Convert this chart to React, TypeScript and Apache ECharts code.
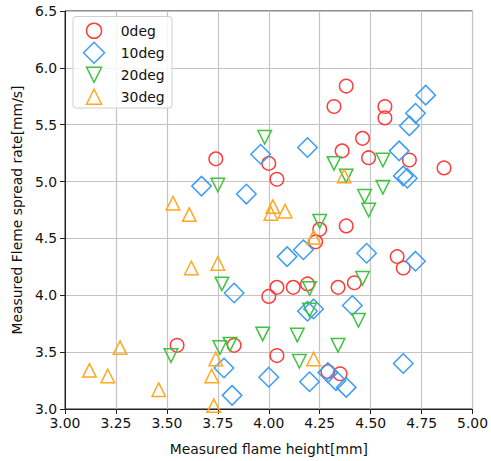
import React, { useEffect, useRef } from "react";
import * as echarts from "echarts";

// [flame height (mm), spread rate (mm/s)]
const deg0: number[][] = [
  [3.74, 5.2], [4.0, 5.16], [4.04, 5.02], [4.32, 5.66], [4.38, 5.84], [4.57, 5.66],
  [4.57, 5.56], [4.46, 5.38], [4.36, 5.27], [4.49, 5.21], [4.69, 5.19], [4.86, 5.12],
  [4.25, 4.58], [4.23, 4.47], [4.38, 4.61], [4.63, 4.34], [4.66, 4.24], [4.0, 3.99],
  [4.04, 4.07], [4.12, 4.07], [4.19, 4.1], [4.34, 4.07], [4.42, 4.11], [4.04, 3.47],
  [4.29, 3.33], [4.35, 3.31], [3.83, 3.56], [3.55, 3.56],
];
const deg10: number[][] = [
  [3.67, 4.96], [3.89, 4.89], [3.96, 5.24], [4.19, 5.3], [4.77, 5.76], [4.72, 5.6],
  [4.69, 5.49], [4.64, 5.27], [4.66, 5.05], [4.68, 5.03], [4.09, 4.34], [4.17, 4.4],
  [4.48, 4.37], [4.72, 4.3], [4.41, 3.91], [4.19, 3.86], [4.22, 3.88], [4.66, 3.4],
  [4.0, 3.28], [4.2, 3.24], [4.29, 3.32], [4.33, 3.25], [4.38, 3.19], [3.83, 4.02],
  [3.78, 3.36], [3.82, 3.12],
];
const deg20: number[][] = [
  [3.98, 5.39], [3.75, 4.97], [4.32, 5.16], [4.38, 5.05], [4.56, 5.19], [4.56, 4.95],
  [4.47, 4.87], [4.49, 4.75], [4.25, 4.65], [4.2, 4.06], [4.2, 3.87], [4.46, 4.15],
  [4.44, 3.78], [3.97, 3.66], [4.14, 3.65], [4.34, 3.56], [4.15, 3.42], [3.77, 4.1],
  [3.76, 3.54], [3.81, 3.57], [3.52, 3.47],
];
const deg30: number[][] = [
  [3.53, 4.81], [3.61, 4.71], [3.62, 4.24], [3.75, 4.28], [3.27, 3.54], [3.12, 3.34],
  [3.21, 3.29], [3.46, 3.17], [3.74, 3.44], [3.72, 3.29], [3.73, 3.03], [4.37, 5.05],
  [4.02, 4.78], [4.01, 4.72], [4.08, 4.74], [4.22, 4.51], [4.22, 3.44],
];

const seriesNames = ["0deg", "10deg", "20deg", "30deg"];
const seriesColors = ["#ff3b3b", "#3d9df5", "#3ec43e", "#ffa820"];
const seriesSymbols = ["circle", "diamond", "triangle", "triangle"];
const seriesRotations = [0, 0, 180, 0];
const legendIcons = ["circle", "diamond", "path://M0,0 L10,0 L5,10 Z", "triangle"];
const seriesSizes = [13.5, 19.5, 13.5, 13.5];
const seriesData = [deg0, deg10, deg20, deg30];

const xTicks = { min: 3, max: 5, interval: 0.25 };
const yTicks = { min: 3, max: 6.5, interval: 0.5 };

const FONT = "DejaVu Sans";
const FS = 13.9;

export default function App() {
  const ref = useRef<HTMLDivElement>(null);
  useEffect(() => {
    if (!ref.current) return;
    const chart = echarts.init(ref.current, undefined, { renderer: "svg" });
    const rowY = [30, 52, 74, 96];
    const iconCx = 93.3;
    const textX = 120;
    const legends = seriesNames.map((name, i) => {
      const s = seriesSizes[i] + 1.5;
      return {
        show: true,
        z: 11,
        selectedMode: false,
        orient: "horizontal",
        data: [{ name, icon: legendIcons[i] }],
        left: iconCx - s / 2,
        top: rowY[i] - s / 2,
        padding: 0,
        itemGap: 0,
        itemWidth: s,
        itemHeight: s,
        itemStyle: {
          color: "transparent",
          borderColor: seriesColors[i],
          borderWidth: 1.5,
        },
        textStyle: {
          fontFamily: FONT,
          fontSize: FS,
          color: "#111",
          padding: [0, 0, 0, textX - (iconCx + s / 2 + 5)],
        },
      };
    });
    chart.setOption({
      animation: false,
      textStyle: { fontFamily: FONT },
      grid: {
        left: 65,
        right: 15,
        top: 11,
        bottom: 51,
        show: true,
        borderColor: "#222",
        borderWidth: 1,
        backgroundColor: "transparent",
      },
      graphic: [
        {
          type: "rect",
          z: 10,
          shape: { x: 73, y: 16.5, width: 99, height: 91.5, r: 3 },
          style: { fill: "rgba(255,255,255,0.85)", stroke: "#d0d0d0", lineWidth: 1 },
        },
      ],
      legend: legends,
      xAxis: {
        type: "value",
        min: xTicks.min,
        max: xTicks.max,
        interval: xTicks.interval,
        name: "Measured flame height[mm]",
        nameLocation: "middle",
        nameGap: 33,
        nameTextStyle: { fontFamily: FONT, fontSize: FS, color: "#111" },
        axisLine: { show: true, lineStyle: { color: "#222", width: 1 } },
        axisTick: { show: true, length: 5, lineStyle: { color: "#222", width: 1 } },
        axisLabel: {
          fontFamily: FONT,
          fontSize: FS,
          color: "#111",
          margin: 7,
          formatter: (v: number) => v.toFixed(2),
        },
        splitLine: { show: true, lineStyle: { color: "#c4c4c4", width: 1.2 } },
      },
      yAxis: {
        type: "value",
        min: yTicks.min,
        max: yTicks.max,
        interval: yTicks.interval,
        name: "Measured Fleme spread rate[mm/s]",
        nameLocation: "middle",
        nameGap: 41,
        nameTextStyle: { fontFamily: FONT, fontSize: FS, color: "#111" },
        axisLine: { show: true, lineStyle: { color: "#222", width: 1 } },
        axisTick: { show: true, length: 5, lineStyle: { color: "#222", width: 1 } },
        axisLabel: {
          fontFamily: FONT,
          fontSize: FS,
          color: "#111",
          margin: 8,
          formatter: (v: number) => v.toFixed(1),
        },
        splitLine: { show: true, lineStyle: { color: "#c4c4c4", width: 1.2 } },
      },
      series: seriesNames.map((name, i) => ({
        type: "scatter",
        name,
        data: seriesData[i],
        symbol: seriesSymbols[i],
        symbolRotate: seriesRotations[i],
        symbolSize: seriesSizes[i],
        itemStyle: {
          color: "transparent",
          borderColor: seriesColors[i],
          borderWidth: 1.5,
          opacity: 1,
        },
        emphasis: { disabled: true },
      })),
    });
    return () => chart.dispose();
  }, []);
  return (
    <div
      ref={ref}
      style={{ position: "fixed", left: 0, top: 0, width: 491, height: 461, background: "#fff" }}
    />
  );
}
